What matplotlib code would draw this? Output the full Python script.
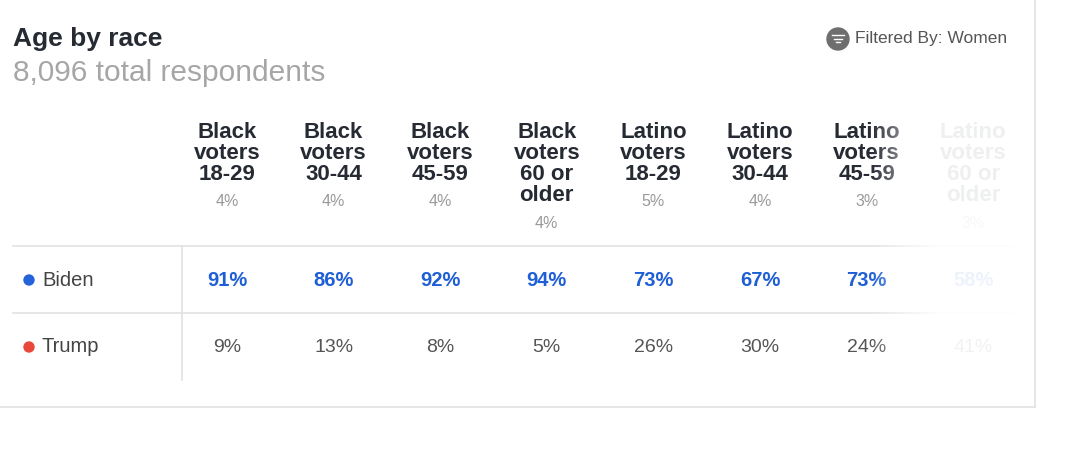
import numpy as np
import matplotlib.pyplot as plt
from matplotlib.patches import Circle

plt.rcParams['font.family'] = ['Liberation Sans', 'DejaVu Sans']

headers = ['Black\nvoters\n18-29', 'Black\nvoters\n30-44', 'Black\nvoters\n45-59', 'Black\nvoters\n60 or\nolder',
           'Latino\nvoters\n18-29', 'Latino\nvoters\n30-44', 'Latino\nvoters\n45-59', 'Latino\nvoters\n60 or\nolder']
shares = ['4%', '4%', '4%', '4%', '5%', '4%', '3%', '3%']
biden = [91, 86, 92, 94, 73, 67, 73, 58]
trump = [9, 13, 8, 5, 26, 30, 24, 41]

W, H = 1080, 453
fig = plt.figure(figsize=(W / 100, H / 100), dpi=100)
ax = fig.add_axes([0, 0, 1, 1])
ax.set_xlim(0, W)
ax.set_ylim(H, 0)
ax.axis('off')

dark = '#262a33'
gray = '#9a9a9a'
blue = '#1f5fd6'
line = '#e2e2e2'

# card border
ax.plot([1035, 1035], [0, 407], color=line, lw=1.2)
ax.plot([0, 1035], [407, 407], color=line, lw=1.2)

ax.text(13, 39, 'Age by race', fontsize=19, fontweight='bold', color=dark, va='center')
ax.text(13, 73, '8,096 total respondents', fontsize=21.5, color='#a6a6a6', va='center')
ax.add_patch(Circle((838, 39), 11, color='#6e6e6e'))
for i, hw in enumerate([6, 4, 2]):
    ax.plot([838 - hw, 838 + hw], [35 + i * 3.5, 35 + i * 3.5], color='white', lw=1)
ax.text(855, 39, 'Filtered By: Women', fontsize=12.5, color='#555555', va='center')

x0, dx = 227, 106.6
for i, (h, s) in enumerate(zip(headers, shares)):
    x = x0 + i * dx
    lines = h.split('\n')
    for j, t in enumerate(lines):
        ax.text(x, 132 + j * 21.3, t, fontsize=16, fontweight='bold', color=dark, ha='center', va='center')
    ax.text(x, 202 + (len(lines) - 3) * 21.3, s, fontsize=11.5, color=gray, ha='center', va='center')
    ax.text(x, 280, f'{biden[i]}%', fontsize=14.5, fontweight='bold', color=blue, ha='center', va='center')
    ax.text(x, 347, f'{trump[i]}%', fontsize=14, color='#555555', ha='center', va='center')

for y in [246, 313]:
    ax.plot([13, 1012], [y, y], color=line, lw=1.2)
ax.plot([182, 182], [246, 380], color=line, lw=1.2)

ax.add_patch(Circle((29, 280), 5, color='#2563d9'))
ax.text(42, 280, 'Biden', fontsize=14.5, color='#444444', va='center')
ax.add_patch(Circle((29, 347), 5, color='#e8473b'))
ax.text(42, 347, 'Trump', fontsize=14.5, color='#444444', va='center')

# fade on right
grad = np.zeros((2, 200, 4))
grad[..., :3] = 1
grad[..., 3] = np.clip(np.linspace(0, 1, 200) * 2.2, 0, 0.93)
ax.imshow(grad, extent=(870, 1030, 400, 110), aspect='auto', zorder=5)

fig.savefig('out.png', dpi=100, facecolor='white')
